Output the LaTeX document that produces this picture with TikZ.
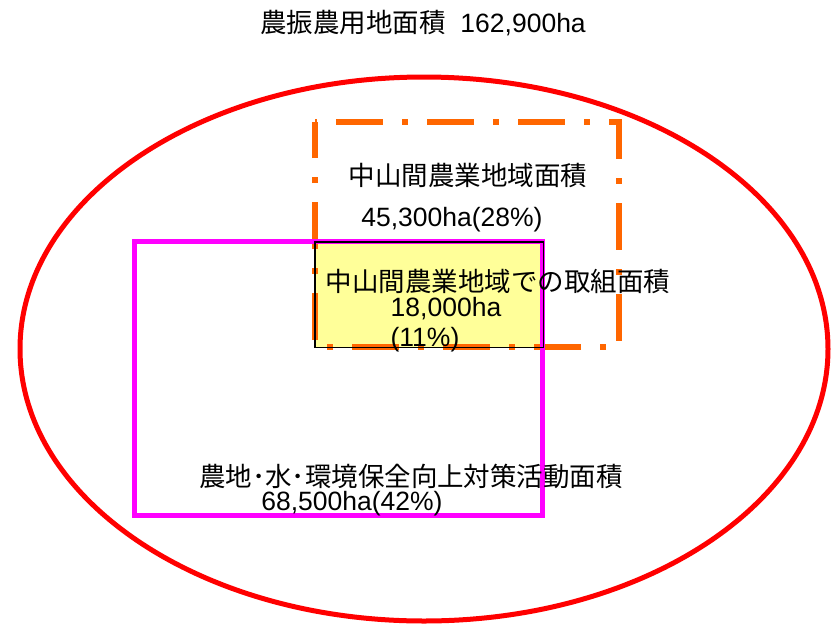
\documentclass[tikz,border=0pt]{standalone}
\usepackage{fontspec}
\setmainfont{Liberation Sans}
\newfontfamily\jp{Noto Sans CJK JP}
\definecolor{ellred}{RGB}{255,0,0}
\definecolor{dashorange}{RGB}{255,102,0}
\definecolor{boxmag}{RGB}{255,0,255}
\definecolor{lightyel}{RGB}{255,255,153}
\tikzset{
  lbl/.style={inner sep=0pt, font=\fontsize{26.5}{30}\selectfont},
  ringline/.style={draw=ellred, line width=5pt},
  regionbox/.style={draw=dashorange, line width=6pt, dash pattern=on 47pt off 19pt on 6pt off 19pt, dash phase=70pt},
  actbox/.style={draw=boxmag, line width=5pt},
  overlapbox/.style={fill=lightyel},
}
\begin{document}
\begin{tikzpicture}[x=1pt,y=-1pt]
\useasboundingbox (0,0) rectangle (831,625);
\node[draw=none, inner sep=0pt, minimum width=0pt] (ring) at (424,349) {};
\draw[ringline] (ring) ellipse [x radius=404, y radius=272];
\node[overlapbox, anchor=north west, minimum width=228pt, minimum height=105pt, inner sep=0pt] (yel) at (315,242) {};
\draw[regionbox] (315,122) -- (619,122) -- (619,347) -- (315,347) -- cycle;
\draw[actbox] (134,241.5) rectangle (542.5,515);
\draw[black, line width=1.3pt] (yel.north west) rectangle (yel.south east);
\node[lbl] (title) at (423,23) {{\jp 農振農用地面積}\ \ 162,900ha};
\node[lbl] (midname) at (468,175) {\jp 中山間農業地域面積};
\node[lbl] (midval) at (452,220) {45,300ha(28\%)};
\node[lbl] (overname) at (498,281) {\jp 中山間農業地域での取組面積};
\node[lbl] (overval) at (446,309) {18,000ha};
\node[lbl] (overpct) at (425,340) {(11\%)};
\node[lbl] (actname) at (411,476) {\jp 農地･水･環境保全向上対策活動面積};
\node[lbl] (actval) at (352,504) {68,500ha(42\%)};
\end{tikzpicture}
\end{document}
